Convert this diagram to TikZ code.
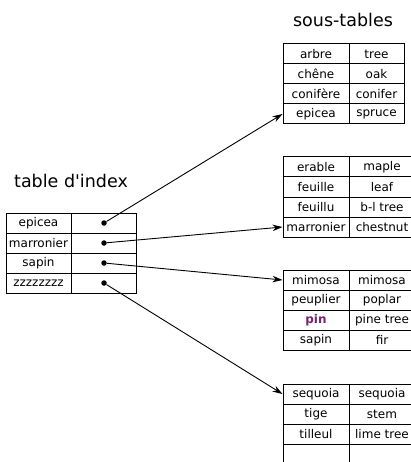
\documentclass[tikz,border=0pt]{standalone}
\usepackage{fontspec}
\setmainfont{DejaVu Sans}
\usetikzlibrary{arrows.meta}
\definecolor{pinpurple}{RGB}{117,36,110}
\tikzset{
    cell/.style={draw, line width=1pt, inner sep=0pt, minimum height=20pt,
        minimum width=65pt, font=\fontsize{12}{13}\selectfont},
    keycell/.style={cell, minimum width=66pt},
    valcell/.style={cell, minimum width=66pt},
    ptr/.style={circle, fill, inner sep=0pt, minimum size=5.5pt},
    link/.style={-{Stealth[length=10pt,width=6.5pt]}, line width=0.9pt},
    title/.style={anchor=base, font=\fontsize{17.5}{20}\selectfont}
}
\begin{document}
\begin{tikzpicture}[x=1pt,y=-1pt]
    \clip (0,0) rectangle (411,462);
    \node[title] (tsous) at (343,27) {sous-tables};
    \node[title] (tindex) at (71,188) {table d\textquotesingle index};
    % table d'index
    \node[cell] (i1) at (38.5,223) {epicea};
    \node[cell] (i2) at (38.5,243) {marronier};
    \node[cell] (i3) at (38.5,263) {sapin};
    \node[cell] (i4) at (38.5,283) {zzzzzzzz};
    \node[cell] (j1) at (103.5,223) {};
    \node[cell] (j2) at (103.5,243) {};
    \node[cell] (j3) at (103.5,263) {};
    \node[cell] (j4) at (103.5,283) {};
    \node[ptr] (p1) at (104,223) {};
    \node[ptr] (p2) at (104,243) {};
    \node[ptr] (p3) at (104,263) {};
    \node[ptr] (p4) at (104,283) {};
    % sous-table 1
    \node[keycell] (a1) at (316,54) {arbre};
    \node[keycell] (a2) at (316,74) {chêne};
    \node[keycell] (a3) at (316,94) {conifère};
    \node[keycell] (a4) at (316,114) {epicea};
    \node[valcell, minimum width=55pt] (b1) at (376.5,54) {tree};
    \node[valcell, minimum width=55pt] (b2) at (376.5,74) {oak};
    \node[valcell, minimum width=55pt] (b3) at (376.5,94) {conifer};
    \node[valcell, minimum width=55pt] (b4) at (376.5,114) {spruce};
    % sous-table 2
    \node[keycell] (c1) at (316,167) {erable};
    \node[keycell] (c2) at (316,187) {feuille};
    \node[keycell] (c3) at (316,207) {feuillu};
    \node[keycell] (c4) at (316,227) {marronier};
    \node[valcell] (e1) at (382,167) {maple};
    \node[valcell] (e2) at (382,187) {leaf};
    \node[valcell] (e3) at (382,207) {b-l tree};
    \node[valcell] (e4) at (382,227) {chestnut};
    % sous-table 3
    \node[keycell] (f1) at (316,280) {mimosa};
    \node[keycell] (f2) at (316,300) {peuplier};
    \node[keycell, text=pinpurple, font=\fontsize{12}{13}\selectfont\bfseries] (f3) at (316,320) {pin};
    \node[keycell] (f4) at (316,340) {sapin};
    \node[valcell] (g1) at (382,280) {mimosa};
    \node[valcell] (g2) at (382,300) {poplar};
    \node[valcell] (g3) at (382,320) {pine tree};
    \node[valcell] (g4) at (382,340) {fir};
    % sous-table 4
    \node[keycell] (h1) at (316,394) {sequoia};
    \node[keycell] (h2) at (316,414) {tige};
    \node[keycell] (h3) at (316,434) {tilleul};
    \node[keycell] (h4) at (316,454) {};
    \node[valcell] (k1) at (382,394) {sequoia};
    \node[valcell] (k2) at (382,414) {stem};
    \node[valcell] (k3) at (382,434) {lime tree};
    \node[valcell] (k4) at (382,454) {};
    % pointeurs
    \draw[link] (p1) -- (a4.west);
    \draw[link] (p2) -- (c4.west);
    \draw[link] (p3) -- (f1.west);
    \draw[link] (p4) -- (h1.west);
\end{tikzpicture}
\end{document}
